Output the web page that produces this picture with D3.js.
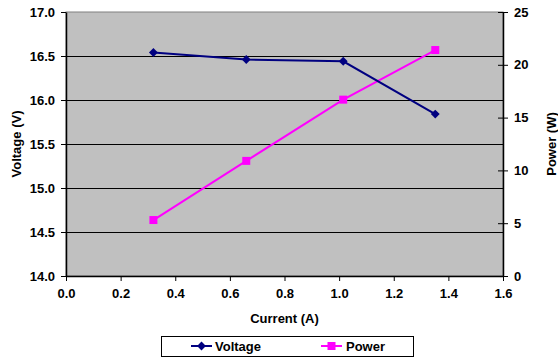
<!DOCTYPE html>
<html lang="en">
<head>
    <meta charset="UTF-8">
    <script src="https://cdn.jsdelivr.net/npm/d3@7"></script>
    <style>
        body { margin: 0; background: #fff; }
        svg { display: block; font-family: "Liberation Sans", Arial, sans-serif; font-weight: bold; }
    </style>
</head>
<body>
    <script>
        // data
        var current = [0.32, 0.66, 1.015, 1.352];
        var voltage = [16.54, 16.46, 16.44, 15.84];
        var power = [5.3, 10.9, 16.7, 21.4];
        var xTicks = [0, 0.2, 0.4, 0.6, 0.8, 1.0, 1.2, 1.4, 1.6];
        var vTicks = [14.0, 14.5, 15.0, 15.5, 16.0, 16.5, 17.0];
        var pTicks = [0, 5, 10, 15, 20, 25];

        var width = 558, height = 360;
        var pLeft = 66, pRight = 503, pTop = 12, pBottom = 276;

        var svg = d3.select('body').append('svg')
            .attr('width', width)
            .attr('height', height);

        var x = d3.scaleLinear().domain([0, 1.6]).range([pLeft, pRight]);
        var yV = d3.scaleLinear().domain([14, 17]).range([pBottom, pTop]);
        var yP = d3.scaleLinear().domain([0, 25]).range([pBottom, pTop]);

        // plot area
        svg.append('rect')
            .attr('x', pLeft).attr('y', pTop)
            .attr('width', pRight - pLeft).attr('height', pBottom - pTop)
            .attr('fill', '#c0c0c0')
            .attr('stroke', '#808080');

        // gridlines
        svg.append('g').selectAll('line')
            .data(vTicks.slice(1, -1))
            .enter().append('line')
            .attr('x1', pLeft).attr('x2', pRight)
            .attr('y1', function(d) { return Math.round(yV(d)) + 0.5; })
            .attr('y2', function(d) { return Math.round(yV(d)) + 0.5; })
            .attr('stroke', '#000');

        // axes
        var xAxis = d3.axisBottom(x).tickValues(xTicks).tickFormat(d3.format('.1f')).tickSizeInner(5).tickSizeOuter(0).tickPadding(8);
        var yAxis = d3.axisLeft(yV).tickValues(vTicks).tickFormat(d3.format('.1f')).tickSizeInner(5).tickSizeOuter(0).tickPadding(6);
        var pAxis = d3.axisRight(yP).tickValues(pTicks).tickSizeInner(5).tickSizeOuter(0).tickPadding(6);

        function styleAxis(g) {
            g.select('.domain').attr('stroke', '#000').attr('stroke-width', 1.5);
            g.selectAll('.tick line').attr('stroke', '#000');
            g.selectAll('text').attr('font-size', 13).attr('font-weight', 'bold')
                .attr('font-family', '"Liberation Sans", Arial, sans-serif').attr('fill', '#000');
        }

        svg.append('g').attr('transform', 'translate(0,' + pBottom + ')').call(xAxis).call(styleAxis);
        svg.append('g').attr('transform', 'translate(' + pLeft + ',0)').call(yAxis).call(styleAxis);
        var pg = svg.append('g').attr('transform', 'translate(' + pRight + ',0)').call(pAxis).call(styleAxis);
        // cross ticks on right axis
        pg.selectAll('.tick line').attr('x1', -5);

        // axis titles
        svg.append('text')
            .attr('x', (pLeft + pRight) / 2).attr('y', 323)
            .attr('text-anchor', 'middle').attr('font-size', 13)
            .text('Current (A)');
        svg.append('text')
            .attr('transform', 'translate(21,' + (pTop + pBottom) / 2 + ') rotate(-90)')
            .attr('text-anchor', 'middle').attr('font-size', 13)
            .text('Voltage (V)');
        svg.append('text')
            .attr('transform', 'translate(556,' + (pTop + pBottom) / 2 + ') rotate(-90)')
            .attr('text-anchor', 'middle').attr('font-size', 13)
            .text('Power (W)');

        var vData = current.map(function(c, i) { return [c, voltage[i]]; });
        var pData = current.map(function(c, i) { return [c, power[i]]; });

        var vLine = d3.line().x(function(d) { return x(d[0]); }).y(function(d) { return yV(d[1]); });
        var pLine = d3.line().x(function(d) { return x(d[0]); }).y(function(d) { return yP(d[1]); });

        svg.append('path').datum(pData).attr('d', pLine)
            .attr('fill', 'none').attr('stroke', '#ff00ff').attr('stroke-width', 2);
        svg.append('path').datum(vData).attr('d', vLine)
            .attr('fill', 'none').attr('stroke', '#000080').attr('stroke-width', 2);

        var diamond = d3.symbol().type(d3.symbolDiamond2).size(50);

        svg.append('g').selectAll('rect')
            .data(pData).enter().append('rect')
            .attr('x', function(d) { return x(d[0]) - 4; })
            .attr('y', function(d) { return yP(d[1]) - 4; })
            .attr('width', 8).attr('height', 8)
            .attr('fill', '#ff00ff');
        svg.append('g').selectAll('path')
            .data(vData).enter().append('path')
            .attr('d', diamond)
            .attr('transform', function(d) { return 'translate(' + x(d[0]) + ',' + yV(d[1]) + ')'; })
            .attr('fill', '#000080');

        // legend
        var lg = svg.append('g');
        lg.append('rect').attr('x', 161.5).attr('y', 336.5).attr('width', 252).attr('height', 20)
            .attr('fill', '#fff').attr('stroke', '#000');
        lg.append('line').attr('x1', 191).attr('x2', 212).attr('y1', 346).attr('y2', 346)
            .attr('stroke', '#000080').attr('stroke-width', 2);
        lg.append('path').attr('d', diamond).attr('transform', 'translate(201.5,346)').attr('fill', '#000080');
        lg.append('text').attr('x', 215).attr('y', 351).attr('font-size', 13).text('Voltage');
        lg.append('line').attr('x1', 321).attr('x2', 342).attr('y1', 346).attr('y2', 346)
            .attr('stroke', '#ff00ff').attr('stroke-width', 2);
        lg.append('rect').attr('x', 327.5).attr('y', 342).attr('width', 8).attr('height', 8).attr('fill', '#ff00ff');
        lg.append('text').attr('x', 346).attr('y', 351).attr('font-size', 13).text('Power');
    </script>
</body>
</html>
